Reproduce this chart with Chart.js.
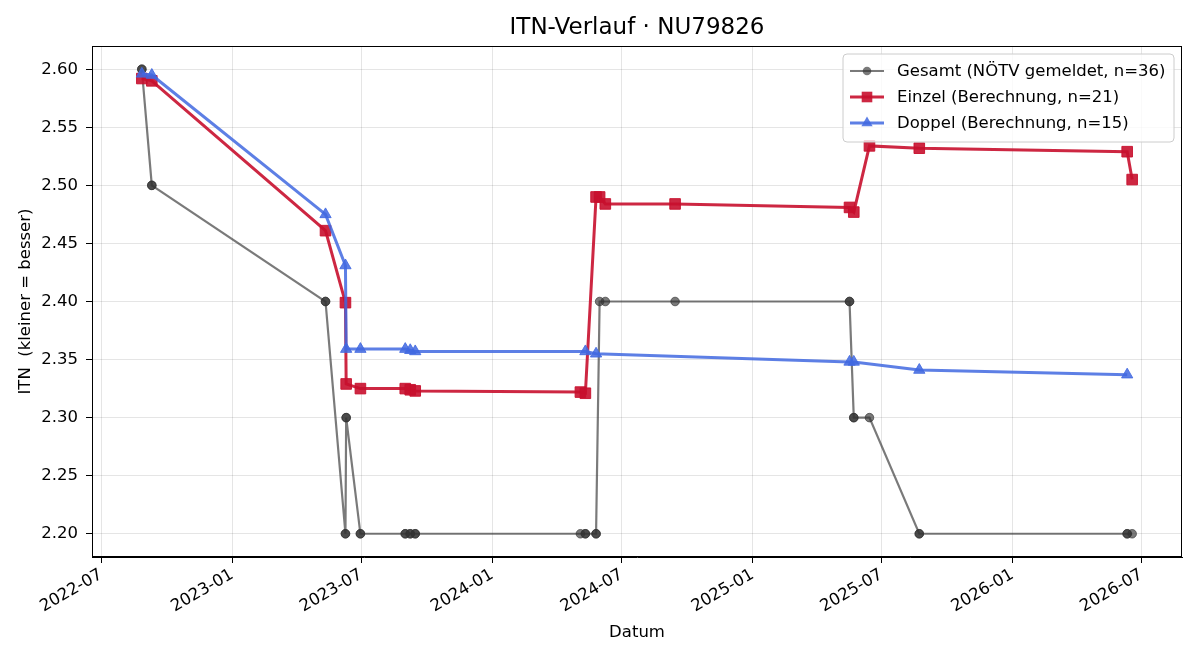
<!DOCTYPE html>
<html>
<head>
<meta charset="utf-8">
<title>ITN-Verlauf</title>
<script src="https://cdn.jsdelivr.net/npm/chart.js@4.4.1/dist/chart.umd.min.js"></script>
<style>
  html, body { margin: 0; padding: 0; background: #fff; }
  #wrap { width: 1200px; height: 660px; }
</style>
</head>
<body>
<div id="wrap"><canvas id="myChart" width="1200" height="660"></canvas></div>
<script>
// --- data ---
var tickMonths = ['2022-07-01','2023-01-01','2023-07-01','2024-01-01','2024-07-01',
                  '2025-01-01','2025-07-01','2026-01-01','2026-07-01'];
var yTicks = [2.20, 2.25, 2.30, 2.35, 2.40, 2.45, 2.50, 2.55, 2.60];

var gesamtDates = ['2022-08-27','2022-08-27','2022-09-10','2022-09-10','2023-05-12','2023-05-12',
                   '2023-06-09','2023-06-09','2023-06-10','2023-06-10','2023-06-30','2023-06-30',
                   '2023-09-01','2023-09-01','2023-09-08','2023-09-08','2023-09-15','2023-09-15',
                   '2024-05-04','2024-05-11','2024-05-11','2024-05-26','2024-05-26','2024-05-31',
                   '2024-06-08','2024-09-14','2025-05-17','2025-05-17','2025-05-23','2025-05-23',
                   '2025-06-14','2025-08-23','2025-08-23','2026-06-11','2026-06-11','2026-06-18'];
var gesamtValues = [2.60,2.60,2.50,2.50,2.40,2.40,
                    2.20,2.20,2.30,2.30,2.20,2.20,
                    2.20,2.20,2.20,2.20,2.20,2.20,
                    2.20,2.20,2.20,2.20,2.20,2.40,
                    2.40,2.40,2.40,2.40,2.30,2.30,
                    2.30,2.20,2.20,2.20,2.20,2.20];

var einzelDates = ['2022-08-27','2022-09-10','2023-05-12','2023-06-09','2023-06-10','2023-06-30',
                   '2023-09-01','2023-09-08','2023-09-15','2024-05-04','2024-05-11','2024-05-26',
                   '2024-05-31','2024-06-08','2024-09-14','2025-05-17','2025-05-23','2025-06-14',
                   '2025-08-23','2026-06-11','2026-06-18'];
var einzelValues = [2.592,2.590,2.461,2.399,2.329,2.325,
                    2.325,2.324,2.323,2.322,2.321,2.490,
                    2.490,2.484,2.484,2.481,2.477,2.534,
                    2.532,2.529,2.505];

var doppelDates = ['2022-08-27','2022-09-10','2023-05-12','2023-06-09','2023-06-10','2023-06-30',
                   '2023-09-01','2023-09-08','2023-09-15','2024-05-11','2024-05-26','2025-05-17',
                   '2025-05-23','2025-08-23','2026-06-11'];
var doppelValues = [2.596,2.595,2.475,2.431,2.359,2.359,
                    2.359,2.358,2.357,2.357,2.355,2.348,
                    2.348,2.341,2.337];

function day(s) {
    var p = s.split('-');
    return Date.UTC(+p[0], +p[1] - 1, +p[2]);
}
function points(dates, values) {
    return dates.map(function (d, i) { return { x: day(d), y: values[i] }; });
}

Chart.defaults.font.family = "'DejaVu Sans', sans-serif";
Chart.defaults.font.size = 16.5;
Chart.defaults.color = '#000';

// title, frame and legend drawn like matplotlib does it
var mplDecor = {
    id: 'mplDecor',
    afterDraw: function (chart) {
        var ctx = chart.ctx, a = chart.chartArea;
        ctx.save();
        ctx.strokeStyle = '#000';
        ctx.lineWidth = 1;
        ctx.strokeRect(a.left + 0.5, a.top + 0.5, a.right - a.left - 1, a.bottom - a.top - 1);

        ctx.fillStyle = '#000';
        ctx.font = "23px 'DejaVu Sans'";
        ctx.textAlign = 'center';
        ctx.textBaseline = 'middle';
        ctx.fillText('ITN-Verlauf \u00b7 NU79826', (a.left + a.right) / 2, 28);

        // legend box
        var bx = 843, by = 54, bw = 331, bh = 88, r = 4;
        ctx.beginPath();
        ctx.moveTo(bx + r, by);
        ctx.arcTo(bx + bw, by, bx + bw, by + bh, r);
        ctx.arcTo(bx + bw, by + bh, bx, by + bh, r);
        ctx.arcTo(bx, by + bh, bx, by, r);
        ctx.arcTo(bx, by, bx + bw, by, r);
        ctx.closePath();
        ctx.fillStyle = 'rgba(255,255,255,0.8)';
        ctx.fill();
        ctx.strokeStyle = '#cccccc';
        ctx.stroke();

        var rows = [71, 97, 123];
        chart.data.datasets.forEach(function (ds, i) {
            var y = rows[i];
            ctx.strokeStyle = ds.borderColor;
            ctx.lineWidth = ds.borderWidth;
            ctx.beginPath();
            ctx.moveTo(850, y);
            ctx.lineTo(884, y);
            ctx.stroke();
            drawMarker(ctx, ds.pointStyle, 867, y, ds.pointRadius, ds.pointBackgroundColor);
            ctx.fillStyle = '#000';
            ctx.font = "16.5px 'DejaVu Sans'";
            ctx.textAlign = 'left';
            ctx.textBaseline = 'middle';
            ctx.fillText(ds.label, 897, y + 1);
        });
        ctx.restore();
    }
};

function drawMarker(ctx, style, x, y, r, color) {
    ctx.fillStyle = color;
    ctx.beginPath();
    if (style === 'rect') {
        var s = r * Math.SQRT1_2;
        ctx.rect(x - s, y - s, 2 * s, 2 * s);
    } else if (style === 'triangle') {
        ctx.moveTo(x, y - r);
        ctx.lineTo(x + r * 0.866, y + r * 0.5);
        ctx.lineTo(x - r * 0.866, y + r * 0.5);
        ctx.closePath();
    } else {
        ctx.arc(x, y, r, 0, Math.PI * 2);
    }
    ctx.fill();
}

var gray = 'rgba(51,51,51,0.65)';
var red = 'rgba(200,16,46,0.9)';
var blue = 'rgba(65,105,225,0.85)';

var ctx = document.getElementById('myChart').getContext('2d');
var myChart = new Chart(ctx, {
    type: 'line',
    data: {
        datasets: [
            { label: 'Gesamt (N\u00d6TV gemeldet, n=36)', data: points(gesamtDates, gesamtValues),
              borderColor: gray, backgroundColor: gray, pointBackgroundColor: gray, pointBorderColor: gray,
              borderWidth: 2.2, pointStyle: 'circle', pointRadius: 4.3, pointBorderWidth: 1, order: 2 },
            { label: 'Einzel (Berechnung, n=21)', data: points(einzelDates, einzelValues),
              borderColor: red, backgroundColor: red, pointBackgroundColor: red, pointBorderColor: red,
              borderWidth: 3, pointStyle: 'rect', pointRadius: 7.5, pointBorderWidth: 1, order: 1 },
            { label: 'Doppel (Berechnung, n=15)', data: points(doppelDates, doppelValues),
              borderColor: blue, backgroundColor: blue, pointBackgroundColor: blue, pointBorderColor: blue,
              borderWidth: 3, pointStyle: 'triangle', pointRadius: 6.5, pointBorderWidth: 1, order: 0 }
        ]
    },
    options: {
        responsive: false,
        animation: false,
        devicePixelRatio: 1,
        layout: { padding: { top: 46, right: 18, left: 0, bottom: 0 } },
        plugins: {
            legend: { display: false },
            title: { display: false },
            tooltip: { enabled: false }
        },
        elements: { line: { tension: 0 } },
        scales: {
            x: {
                type: 'linear',
                min: day('2022-06-18'),
                max: day('2026-08-27'),
                afterBuildTicks: function (scale) {
                    scale.ticks = tickMonths.map(function (m) { return { value: day(m) }; });
                },
                afterFit: function (scale) { scale.height = 103; },
                ticks: {
                    autoSkip: false,
                    minRotation: 30,
                    maxRotation: 30,
                    padding: 2,
                    callback: function (v) { return new Date(v).toISOString().slice(0, 7); }
                },
                grid: { color: 'rgba(0,0,0,0.1)', tickColor: '#000', tickLength: 6 },
                border: { color: '#000', width: 1 },
                title: { display: true, text: 'Datum', padding: { top: 0, bottom: 17 } }
            },
            y: {
                min: 2.18,
                max: 2.62,
                afterBuildTicks: function (scale) {
                    scale.ticks = yTicks.map(function (v) { return { value: v }; });
                },
                afterFit: function (scale) { scale.width = 92; },
                ticks: {
                    padding: 8,
                    callback: function (v) { return v.toFixed(2); }
                },
                grid: { color: 'rgba(0,0,0,0.1)', tickColor: '#000', tickLength: 6 },
                border: { color: '#000', width: 1 },
                title: { display: true, text: 'ITN  (kleiner = besser)', padding: { top: 16, bottom: 0 } }
            }
        }
    },
    plugins: [mplDecor]
});
</script>
</body>
</html>
